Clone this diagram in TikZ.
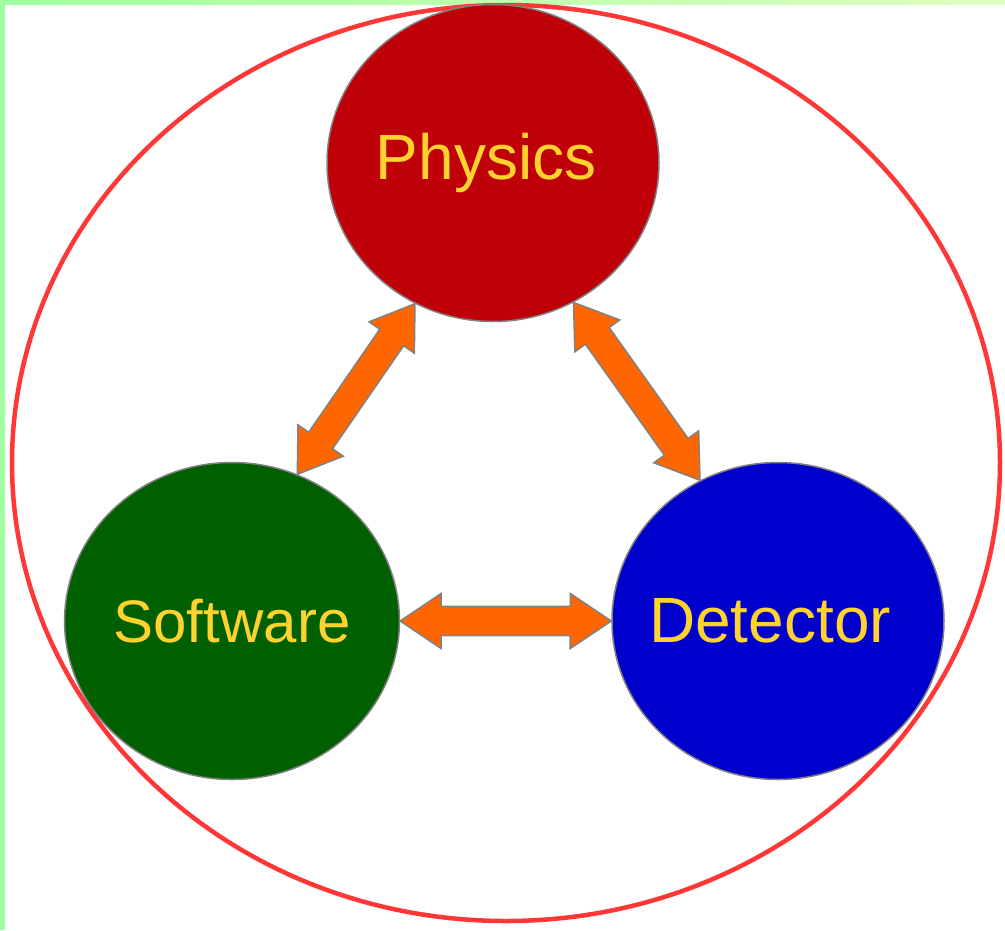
\documentclass[tikz,border=0pt]{standalone}
\usepackage{fontspec}
\setmainfont{Liberation Sans}
\usetikzlibrary{calc,shapes.geometric}
\definecolor{physred}{RGB}{192,0,8}
\definecolor{softgreen}{RGB}{0,96,0}
\definecolor{detblue}{RGB}{0,0,204}
\definecolor{labelgold}{RGB}{255,210,45}
\definecolor{arroworange}{RGB}{255,102,0}
\definecolor{ringred}{RGB}{255,55,55}
\definecolor{edgegreen}{RGB}{160,255,160}
\definecolor{edgeyellow}{RGB}{222,255,190}
\tikzset{
  bubble/.style={ellipse, draw=gray, line width=1.5pt, inner sep=0pt,
    minimum width=332pt, minimum height=317pt, text=labelgold,
    font=\fontsize{64}{70}\selectfont},
  blockarrow/.style={fill=arroworange, draw=gray, line width=1.5pt, line join=miter},
}
\newcommand\dblarrow[2]{%
  \draw[blockarrow] let \p1=($(#2)-(#1)$), \n1={veclen(\x1,\y1)}, \n2={atan2(\y1,\x1)} in
    (#1) -- ++({\n2+33.85}:49.4pt) -- ++({\n2-90}:13pt) -- ++({\n2}:{\n1-82pt})
    -- ++({\n2+90}:13pt) -- (#2) -- ++({\n2+213.85}:49.4pt) -- ++({\n2+90}:13pt)
    -- ++({\n2+180}:{\n1-82pt}) -- ++({\n2-90}:13pt) -- cycle;}
\begin{document}
\begin{tikzpicture}[x=1pt,y=1pt]
\useasboundingbox (0,0) rectangle (1005,-930);
\fill[white] (0,0) rectangle (1005,-930);
% green frame edges
\fill[left color=edgegreen, right color=edgeyellow] (0,0) rectangle (1005,-4);
\fill[edgegreen] (0,0) rectangle (5,-930);
% outer ring
\draw[ringred, line width=4.5pt] (506,-463) ellipse [x radius=494, y radius=458];
% bubbles
\node[bubble, fill=physred] (phys) at (493,-163) {\kern-14pt Physics};
\node[bubble, fill=softgreen, font=\fontsize{60}{66}\selectfont] (soft) at (232,-621) {Software};
\node[bubble, fill=detblue] (det) at (778,-621) {\kern-16pt Detector};
% arrow tips
\coordinate (pA) at (phys.-119);
\coordinate (sA) at (soft.66);
\coordinate (pB) at (phys.-60);
\coordinate (dB) at (det.119);
\coordinate (sC) at (soft.east);
\coordinate (dC) at (det.west);
\dblarrow{sA}{pA}
\dblarrow{pB}{dB}
\dblarrow{sC}{dC}
\end{tikzpicture}
\end{document}
